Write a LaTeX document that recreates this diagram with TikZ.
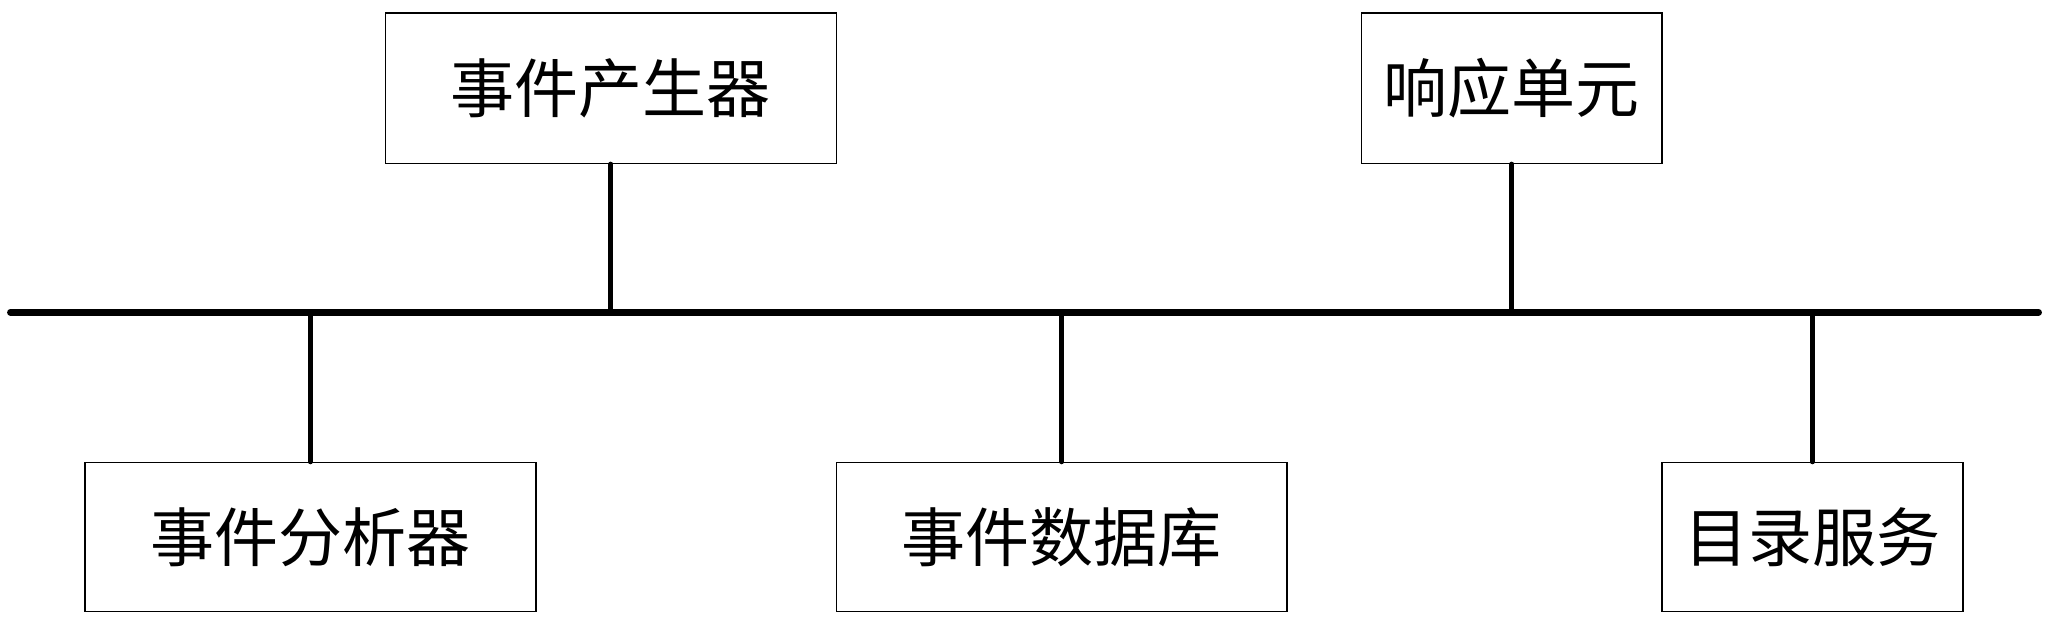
\documentclass[tikz,border=0pt]{standalone}
\usepackage{fontspec}
\setmainfont{Noto Sans CJK SC}
\begin{document}
\begin{tikzpicture}[x=0.5pt,y=-0.5pt,
  box/.style={draw, line width=0.6pt, inner sep=0pt, font=\fontsize{24.5}{28}\selectfont},
  bus/.style={line width=2.6pt, line cap=round},
  tap/.style={line width=1.9pt, line cap=round}]
\useasboundingbox (0,0) rectangle (1568,480);
\node[box, minimum width=172.5pt, minimum height=57.5pt] (gen) at (467.5,67.5) {事件产生器};
\node[box, minimum width=115pt, minimum height=57.5pt] (resp) at (1157,67.5) {响应单元};
\node[box, minimum width=172.5pt, minimum height=57pt] (ana) at (237.5,411) {事件分析器};
\node[box, minimum width=172.5pt, minimum height=57pt] (db) at (812.5,411) {事件数据库};
\node[box, minimum width=115pt, minimum height=57pt] (dir) at (1387,411) {目录服务};
\coordinate (busL) at (8,239);
\coordinate (busR) at (1560,239);
\draw[bus] (busL) -- (busR);
\draw[tap] (gen.south) -- (gen.south |- busL);
\draw[tap] (resp.south) -- (resp.south |- busL);
\draw[tap] (ana.north) -- (ana.north |- busL);
\draw[tap] (db.north) -- (db.north |- busL);
\draw[tap] (dir.north) -- (dir.north |- busL);
\end{tikzpicture}
\end{document}
